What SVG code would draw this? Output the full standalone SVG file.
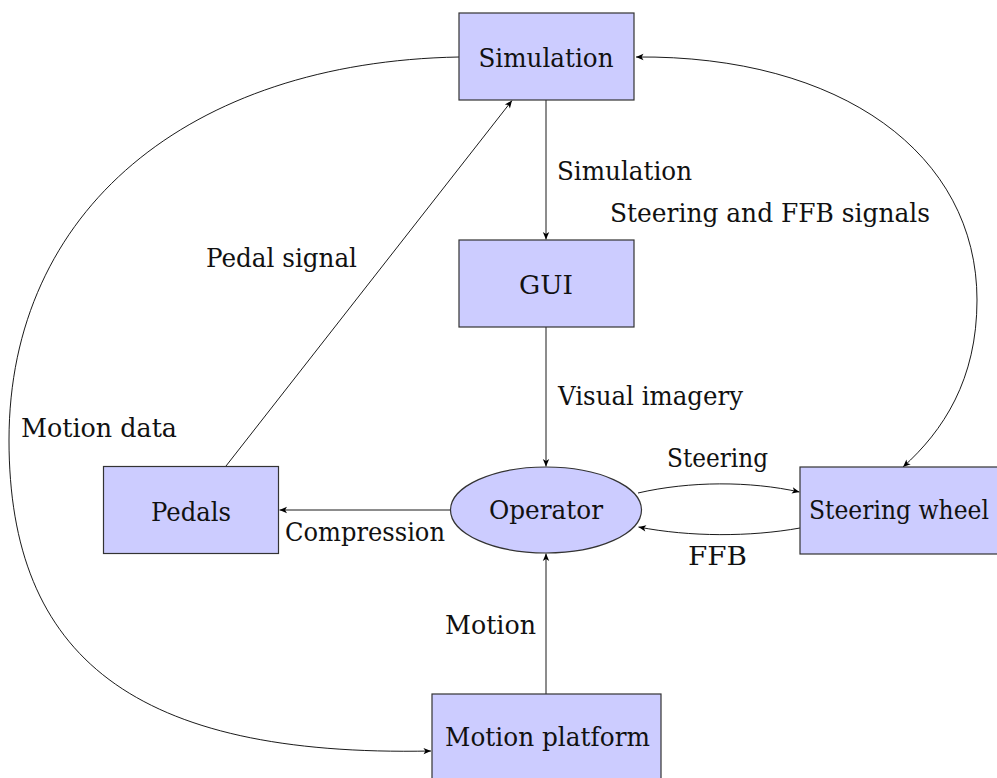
<svg xmlns="http://www.w3.org/2000/svg" width="997" height="778" viewBox="0 0 997 778">
<style>
.box{fill:#ccccff;stroke:#333;stroke-width:1.2}
text{font-family:'DejaVu Serif','Liberation Serif',serif;font-size:26px;fill:#111}
.m{text-anchor:middle}
.e{fill:none;stroke:#000;stroke-width:0.9}
</style>
<defs>
<marker id="ah" viewBox="-8 -4 9 8" refX="0" refY="0" markerWidth="9" markerHeight="8" markerUnits="userSpaceOnUse" orient="auto-start-reverse">
<path d="M0,0 L-7.5,-3.2 L-5.6,0 L-7.5,3.2 Z" fill="#000"/>
</marker>
</defs>
<rect width="997" height="778" fill="#fff"/>
<g id="connectors">
<path class="e" d="M546,100 L546,239.5" marker-end="url(#ah)"/>
<path class="e" d="M546,327 L546,466.5" marker-end="url(#ah)"/>
<path class="e" d="M546,694 L546,553.5" marker-end="url(#ah)"/>
<path class="e" d="M451,510 L279.5,510" marker-end="url(#ah)"/>
<path class="e" d="M226,466 L512,100.5" marker-end="url(#ah)"/>
<path class="e" d="M636,57 C841,55 977,154 977,300 C977,380 943,431 903,467" marker-start="url(#ah)" marker-end="url(#ah)"/>
<path class="e" d="M459,57 C189,62 9,210 9,440 C9,658 135,757 431,751" marker-end="url(#ah)"/>
<path class="e" d="M638,493 C690,481 750,481 799.5,492" marker-end="url(#ah)"/>
<path class="e" d="M800,528 C750,537 690,537 638.5,527" marker-end="url(#ah)"/>
</g>
<g id="labels">
<text x="557" y="180" textLength="135" lengthAdjust="spacingAndGlyphs">Simulation</text>
<text x="610" y="222" textLength="320" lengthAdjust="spacingAndGlyphs">Steering and FFB signals</text>
<text x="206" y="267" textLength="151" lengthAdjust="spacingAndGlyphs">Pedal signal</text>
<text x="558" y="405" textLength="185" lengthAdjust="spacingAndGlyphs">Visual imagery</text>
<text x="21" y="437" textLength="156" lengthAdjust="spacingAndGlyphs">Motion data</text>
<text x="667" y="467" textLength="101" lengthAdjust="spacingAndGlyphs">Steering</text>
<text x="285" y="541" textLength="160" lengthAdjust="spacingAndGlyphs">Compression</text>
<text x="688" y="565" textLength="59" lengthAdjust="spacingAndGlyphs">FFB</text>
<text x="445" y="634" textLength="91" lengthAdjust="spacingAndGlyphs">Motion</text>
</g>
<g id="simulation">
<rect class="box" x="459" y="13" width="175" height="87"/>
<text class="m" x="546" y="67" textLength="135" lengthAdjust="spacingAndGlyphs">Simulation</text>
</g>
<g id="gui">
<rect class="box" x="459" y="240" width="175" height="87"/>
<text class="m" x="546" y="294" textLength="54" lengthAdjust="spacingAndGlyphs">GUI</text>
</g>
<g id="pedals">
<rect class="box" x="103.5" y="466.5" width="175" height="87"/>
<text class="m" x="191" y="521" textLength="80" lengthAdjust="spacingAndGlyphs">Pedals</text>
</g>
<g id="operator">
<ellipse class="box" cx="546" cy="510" rx="95.5" ry="43"/>
<text class="m" x="546" y="519" textLength="114" lengthAdjust="spacingAndGlyphs">Operator</text>
</g>
<g id="steering-wheel">
<rect class="box" x="800" y="467" width="203" height="87"/>
<text x="809" y="519" textLength="180" lengthAdjust="spacingAndGlyphs">Steering wheel</text>
</g>
<g id="motion-platform">
<rect class="box" x="432" y="694" width="229" height="90"/>
<text class="m" x="547.5" y="746" textLength="205" lengthAdjust="spacingAndGlyphs">Motion platform</text>
</g>
</svg>
